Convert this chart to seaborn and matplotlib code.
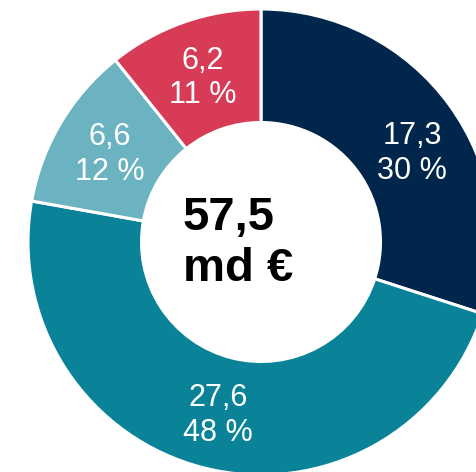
import numpy as np
import matplotlib
matplotlib.use("Agg")
import matplotlib.pyplot as plt
import seaborn as sns

# Data
categories = ["A", "B", "C", "D"]
values = [17.3, 27.6, 6.6, 6.2]
value_labels = ["17,3", "27,6", "6,6", "6,2"]
pct_labels = ["30 %", "48 %", "12 %", "11 %"]
total_label = "57,5\nmd €"
colors = ["#00264B", "#0A8399", "#6BB3C0", "#D83B55"]

# label angular nudges (degrees), styling only
label_nudge = [-5, 0, 0, 0]

sns.set_theme(style="white")
plt.rcParams['font.family'] = ['Liberation Sans', 'DejaVu Sans']

W, H = 477, 472
fig = plt.figure(figsize=(W / 100, H / 100), dpi=100)
ax = fig.add_axes([0, 0, 1, 1])

R_px = 233.0
cx, cy = 261.0, 242.0
inner_frac = 119.5 / R_px
width = 1 - inner_frac

wedges, _ = ax.pie(values, colors=colors, startangle=90, counterclock=False,
                   radius=1.0, wedgeprops=dict(width=width, edgecolor="white", linewidth=2.2))

mid_r = (1 + inner_frac) / 2
for w, v, p, nd in zip(wedges, value_labels, pct_labels, label_nudge):
    ang = np.deg2rad((w.theta1 + w.theta2) / 2 + nd)
    ax.text(mid_r * np.cos(ang), mid_r * np.sin(ang) - 0.01, f"{v}\n{p}",
            ha="center", va="center", color="white", fontsize=22,
            linespacing=1.2)

ax.text((183 - cx) / R_px, -0.005, total_label, ha="left", va="center",
        multialignment="left", fontsize=34, fontweight="bold", color="black",
        linespacing=1.2)

ax.set_xlim(-cx / R_px, (W - cx) / R_px)
ax.set_ylim(-(H - cy) / R_px, cy / R_px)
ax.set_aspect("auto")
ax.axis("off")

fig.savefig("out.png", dpi=100, facecolor="white")
